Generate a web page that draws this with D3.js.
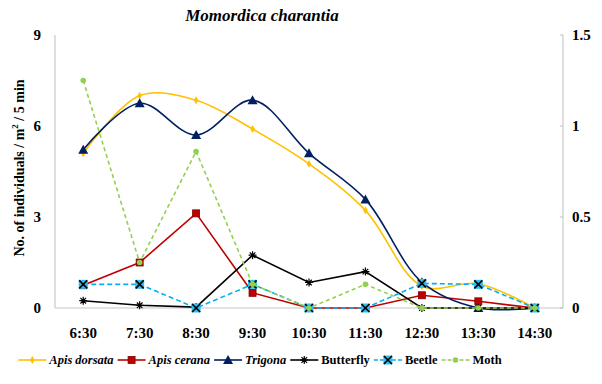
<!DOCTYPE html>
<html>
<head>
<meta charset="utf-8">
<script src="https://cdn.jsdelivr.net/npm/d3@7.9.0/dist/d3.min.js"></script>
<style>
  body { margin: 0; background: #fff; }
</style>
</head>
<body>
<svg id="chart" width="602" height="384"></svg>
<script>
// time slots on the x axis
const times = ['6:30', '7:30', '8:30', '9:30', '10:30', '11:30', '12:30', '13:30', '14:30'];

// left axis series (bees)
const apisDorsata = [5.1, 7.0, 6.85, 5.9, 4.75, 3.22, 0.72, 0.8, 0];
const apisCerana = [0.75, 1.5, 3.12, 0.5, 0, 0, 0.42, 0.22, 0];
const trigona = [5.22, 6.75, 5.7, 6.85, 5.1, 3.58, 0.85, 0, 0];

// right axis series
const butterfly = [0.04, 0.015, 0.005, 0.29, 0.14, 0.2, 0, 0, 0];
const beetle = [0.13, 0.13, 0, 0.13, 0, 0, 0.135, 0.13, 0];
const moth = [1.25, 0.25, 0.86, 0.13, 0, 0.13, 0, 0, 0];

const leftTicks = [0, 3, 6, 9];
const rightTicks = [0, 0.5, 1, 1.5];

const FONT = '"Liberation Serif"';
const svg = d3.select('#chart');
const margin = { left: 55, right: 39, top: 35, bottom: 76 };
const W = 602, H = 384;

// helper so every label gets the serif font inline
function label(parent) {
  return parent.append('text').style('font-family', FONT).attr('font-weight', 'bold');
}

const x = d3.scalePoint()
  .domain(times)
  .range([margin.left, W - margin.right])
  .padding(0.5);

const yL = d3.scaleLinear().domain([0, 9]).range([H - margin.bottom, margin.top]);
const yR = d3.scaleLinear().domain([0, 1.5]).range([H - margin.bottom, margin.top]);

// series definitions
const series = [
  { name: 'Apis dorsata', italic: true, values: apisDorsata, y: yL, color: '#FFC000', dash: null, smooth: true, marker: 'diamond' },
  { name: 'Apis cerana', italic: true, values: apisCerana, y: yL, color: '#C00000', dash: null, smooth: false, marker: 'square' },
  { name: 'Trigona', italic: true, values: trigona, y: yL, color: '#002060', dash: null, smooth: true, marker: 'triangle' },
  { name: 'Butterfly', italic: false, values: butterfly, y: yR, color: '#000000', dash: null, smooth: false, marker: 'star' },
  { name: 'Beetle', italic: false, values: beetle, y: yR, color: '#00B0F0', dash: '5,3', smooth: false, marker: 'xbox' },
  { name: 'Moth', italic: false, values: moth, y: yR, color: '#92D050', dash: '4,3', smooth: false, marker: 'circle' }
];

// axes lines
const x0 = margin.left, x1 = W - margin.right, yBase = yL(0);
svg.append('line').attr('x1', x0).attr('x2', x0).attr('y1', yL(9)).attr('y2', yBase)
  .attr('stroke', '#BFBFBF').attr('stroke-width', 1);
svg.append('line').attr('x1', x0).attr('x2', x1).attr('y1', yBase).attr('y2', yBase)
  .attr('stroke', '#D9D9D9').attr('stroke-width', 1.5);
svg.append('line').attr('x1', x1).attr('x2', x1).attr('y1', yR(1.5)).attr('y2', yBase)
  .attr('stroke', '#BFBFBF').attr('stroke-width', 1);

// right axis small ticks
rightTicks.forEach(d => {
  svg.append('line')
    .attr('x1', x1 - 3).attr('x2', x1)
    .attr('y1', yR(d)).attr('y2', yR(d))
    .attr('stroke', '#BFBFBF');
});

// left tick labels
leftTicks.forEach(d => {
  label(svg).attr('x', 41).attr('y', yL(d) + 5)
    .attr('text-anchor', 'end').attr('font-size', 15).text(d);
});

// right tick labels
rightTicks.forEach(d => {
  label(svg).attr('x', 572).attr('y', yR(d) + 5).attr('font-size', 15).text(d);
});

// x tick labels
times.forEach(d => {
  label(svg).attr('x', x(d)).attr('y', 338)
    .attr('text-anchor', 'middle').attr('font-size', 15).text(d);
});

// title
label(svg).attr('x', 262).attr('y', 21).attr('text-anchor', 'middle')
  .attr('font-size', 17).attr('font-style', 'italic')
  .text('Momordica charantia');

// y label
const yl = label(svg)
  .attr('transform', 'translate(24,168) rotate(-90)')
  .attr('text-anchor', 'middle')
  .attr('font-size', 14);
yl.append('tspan').text('No. of individuals / m');
yl.append('tspan').attr('font-size', 9).attr('dy', -6).text('2');
yl.append('tspan').attr('dy', 6).text(' / 5 min');

function drawMarker(g, type, color, cx, cy) {
  if (type === 'diamond') {
    g.append('path').attr('d', d3.symbol(d3.symbolDiamond, 18)())
      .attr('transform', `translate(${cx},${cy})`).attr('fill', color);
  } else if (type === 'square') {
    g.append('rect').attr('x', cx - 3.5).attr('y', cy - 3.5).attr('width', 7).attr('height', 7)
      .attr('fill', color).attr('stroke', '#7F0000').attr('stroke-width', 0.8);
  } else if (type === 'triangle') {
    g.append('path').attr('d', `M${cx},${cy - 5}L${cx + 5},${cy + 4}L${cx - 5},${cy + 4}Z`)
      .attr('fill', color);
  } else if (type === 'star') {
    const r = 4;
    g.append('path')
      .attr('d', `M${cx - r},${cy}L${cx + r},${cy}M${cx - r * 0.7},${cy - r * 0.7}L${cx + r * 0.7},${cy + r * 0.7}M${cx - r * 0.7},${cy + r * 0.7}L${cx + r * 0.7},${cy - r * 0.7}M${cx},${cy - r}L${cx},${cy + r}`)
      .attr('stroke', color).attr('stroke-width', 1.2);
  } else if (type === 'xbox') {
    g.append('rect').attr('x', cx - 4.5).attr('y', cy - 4.5).attr('width', 9).attr('height', 9)
      .attr('fill', '#33BDEF');
    g.append('path').attr('d', `M${cx - 4},${cy - 4}L${cx + 4},${cy + 4}M${cx - 4},${cy + 4}L${cx + 4},${cy - 4}`)
      .attr('stroke', '#000').attr('stroke-width', 1.6);
  } else if (type === 'circle') {
    g.append('circle').attr('cx', cx).attr('cy', cy).attr('r', 2.8).attr('fill', color);
  }
}

// draw series
series.forEach(s => {
  const g = svg.append('g');
  const line = d3.line()
    .x((d, i) => x(times[i]))
    .y(d => s.y(d))
    .curve(s.smooth ? d3.curveCatmullRom.alpha(0.5) : d3.curveLinear);
  g.append('path').datum(s.values)
    .attr('d', line)
    .attr('fill', 'none')
    .attr('stroke', s.color)
    .attr('stroke-width', 1.6)
    .attr('stroke-dasharray', s.dash);
  s.values.forEach((v, i) => drawMarker(g, s.marker, s.color, x(times[i]), s.y(v)));
});

// legend
const legend = svg.append('g');
let lx = 0;
const ly = 360;
series.forEach(s => {
  const item = legend.append('g').attr('transform', `translate(${lx},0)`);
  item.append('line').attr('x1', 0).attr('x2', 28).attr('y1', ly).attr('y2', ly)
    .attr('stroke', s.color).attr('stroke-width', 1.6).attr('stroke-dasharray', s.dash ? '4,2' : null);
  drawMarker(item, s.marker, s.color, 14, ly);
  const t = label(item).attr('x', 31).attr('y', ly + 4)
    .attr('font-size', 12.5)
    .attr('font-style', s.italic ? 'italic' : 'normal')
    .text(s.name);
  lx += 31 + t.node().getComputedTextLength() + 4;
});
const lw = lx - 4;
legend.attr('transform', `translate(${260 - lw / 2},0)`);
</script>
</body>
</html>
